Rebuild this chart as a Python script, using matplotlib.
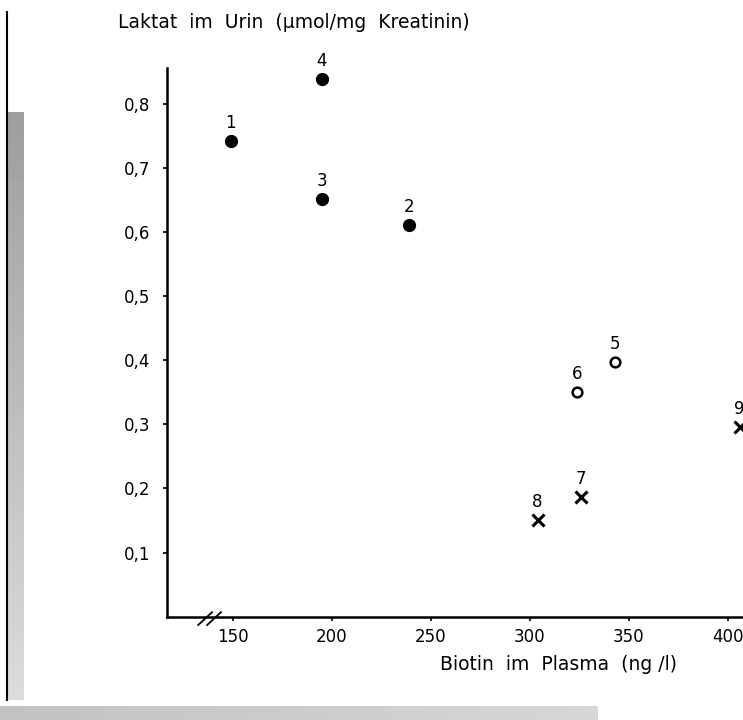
import matplotlib
matplotlib.use('Agg')
import matplotlib.pyplot as plt
import numpy as np
from matplotlib.lines import Line2D
from matplotlib.ticker import FixedLocator, FuncFormatter


# Gruppe A (gefuellte Kreise), Gruppe B (offene Kreise), Gruppe C (Kreuze)
biotin_a = [149, 239, 195, 195]
laktat_a = [0.742, 0.610, 0.651, 0.838]
nummer_a = ['1', '2', '3', '4']

biotin_b = [343, 324]
laktat_b = [0.397, 0.350]
nummer_b = ['5', '6']

biotin_c = [326, 304, 406]
laktat_c = [0.187, 0.150, 0.296]
nummer_c = ['7', '8', '9']

x_ticks = [150, 200, 250, 300, 350, 400]
y_ticks = [0.1, 0.2, 0.3, 0.4, 0.5, 0.6, 0.7, 0.8]

W, H = 743, 720
fig = plt.figure(figsize=(W / 100, H / 100), dpi=100)
fig.patch.set_facecolor('white')

font = ['DejaVu Sans']

# Plotbereich (rechts abgeschnitten wie im Scan)
x0, x1 = 116.7, 420
ax = fig.add_axes([166.7 / W, (H - 616.7) / H, (x1 - x0) * 1.98 / W, (616.7 - 68.3) / H])
ax.set_xlim(x0, x1)
ax.set_ylim(0, 0.855)

ax.plot(biotin_a, laktat_a, 'o', color='black', markersize=8.5, clip_on=False)
ax.plot(biotin_b, laktat_b, 'o', markerfacecolor='white', markeredgecolor='black',
        markeredgewidth=1.8, markersize=7, clip_on=False)
ax.plot(biotin_c, laktat_c, 'x', color='black', markeredgewidth=2.2, markersize=8.5, clip_on=False)

for xs, ys, labs in [(biotin_a, laktat_a, nummer_a), (biotin_b, laktat_b, nummer_b),
                     (biotin_c, laktat_c, nummer_c)]:
    for x, y, lab in zip(xs, ys, labs):
        ax.annotate(lab, (x, y), xytext=(0, 13), textcoords='offset points',
                    ha='center', va='center', fontsize=12, family=font,
                    annotation_clip=False)

for s in ['top', 'right']:
    ax.spines[s].set_visible(False)
for s in ['left', 'bottom']:
    ax.spines[s].set_linewidth(1.8)

ax.xaxis.set_major_locator(FixedLocator(x_ticks))
ax.yaxis.set_major_locator(FixedLocator(y_ticks))
ax.yaxis.set_major_formatter(FuncFormatter(lambda v, p: f'{v:.1f}'.replace('.', ',')))
ax.tick_params(axis='both', direction='out', length=3, width=1.2, labelsize=12)
ax.tick_params(axis='y', pad=9)
ax.tick_params(axis='x', pad=5)

# Achsenbruch
for dx in [0, 4.5]:
    ax.plot([132.6 + dx, 139.6 + dx], [-0.013, 0.007], color='black', lw=1.3, clip_on=False)

fig.text(118 / W, 1 - 22 / H, 'Laktat  im  Urin  (µmol/mg  Kreatinin)', ha='left', va='center',
         fontsize=13.5, family=font)
fig.text(559 / W, 1 - 665 / H, 'Biotin  im  Plasma  (ng /l)', ha='center', va='center',
         fontsize=13.5, family=font)

# Scan-Rand links und unten
fig.add_artist(Line2D([7 / W, 7 / W], [1 - 12 / H, 1 - 700 / H], color='black', lw=1.5))
strip = fig.add_axes([8 / W, 1 - 700 / H, 16 / W, 588 / H])
strip.imshow(np.linspace(0.62, 0.86, 60).reshape(-1, 1), cmap='gray', vmin=0, vmax=1,
             aspect='auto', extent=[0, 1, 0, 1], origin='upper')
strip.axis('off')
band = fig.add_axes([0, 0, 598 / W, 14 / H])
band.imshow(np.linspace(0.76, 0.84, 60).reshape(1, -1), cmap='gray', vmin=0, vmax=1,
            aspect='auto', extent=[0, 1, 0, 1])
band.axis('off')

fig.savefig('out.png', dpi=100)
